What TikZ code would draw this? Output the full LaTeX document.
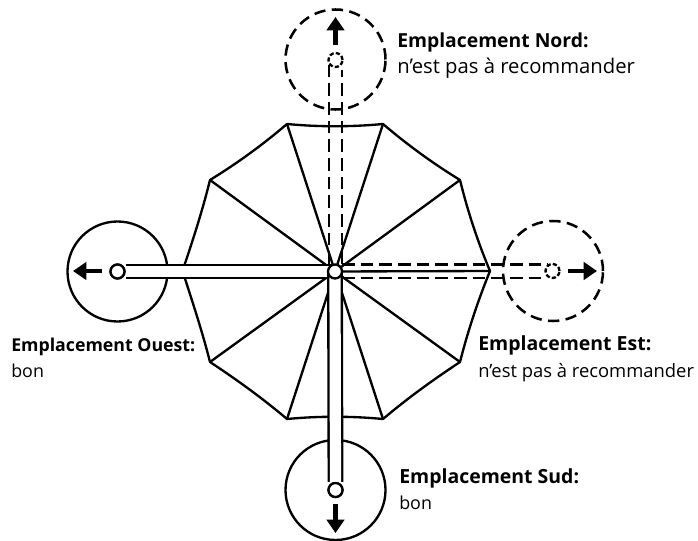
\documentclass[tikz,border=0pt]{standalone}
\usepackage{fontspec}
\setmainfont{Open Sans}
\usetikzlibrary{arrows.meta}
\tikzset{
  px/.style={x=0.75pt,y=-0.75pt},
  ln/.style={line width=1.75pt,black,line join=round},
  dsh/.style={ln,line width=1.9pt,dash pattern=on 8.5pt off 4.8pt},
  barsh/.style={ln,line width=1.9pt,dash pattern=on 9.5pt off 4.5pt},
  dshs/.style={ln,dash pattern=on 3.2pt off 1.6pt},
  basecirc/.style={circle,minimum size=75pt,inner sep=0pt,ln,draw},
  dbasecirc/.style={basecirc,dsh},
  polecap/.style={circle,minimum size=10.5pt,inner sep=0pt,ln,draw,fill=white},
  dpolecap/.style={circle,minimum size=10.5pt,inner sep=0pt,dshs,draw},
  movearrow/.style={line width=3.4pt,-{Triangle[length=10pt,width=13pt]}},
  headtxt/.style={anchor=base west,inner sep=0pt,font=\fontsize{#1}{14pt}\selectfont\bfseries},
  subtxt/.style={anchor=base west,inner sep=0pt,font=\fontsize{#1}{14pt}\selectfont},
  polebar/.style={ln,double=white,double distance=8.4pt},
  rib/.style={ln,line cap=round},
}
\begin{document}
\begin{tikzpicture}[px]
\useasboundingbox (0,0) rectangle (698,541);
% canopy
\coordinate (v1) at (287,124);
\coordinate (v2) at (383,124);
\coordinate (v3) at (460,180);
\coordinate (v4) at (490,271);
\coordinate (v5) at (460,362);
\coordinate (v6) at (383,419);
\coordinate (v7) at (287,419);
\coordinate (v8) at (210,362);
\coordinate (v9) at (182.5,271);
\coordinate (v10) at (210,180);
\draw[ln] (v1) .. controls (319,127) and (351,127) .. (v2)
  .. controls (407.2,144.7) and (432.8,163.3) .. (v3)
  .. controls (467.6,211) and (477.6,241.5) .. (v4)
  .. controls (477.6,301.5) and (467.6,332) .. (v5)
  .. controls (432.8,380) and (407.2,398.5) .. (v6)
  .. controls (351,416) and (319,416) .. (v7)
  .. controls (262.8,398.5) and (237.2,380) .. (v8)
  .. controls (202.4,332) and (192.4,301.5) .. (v9)
  .. controls (192.4,241.5) and (202.4,211) .. (v10)
  .. controls (237.2,163.3) and (262.8,144.7) .. (v1);
\coordinate (hubc) at (335,271.5);
\foreach \v in {1,...,10} \draw[rib] (hubc) -- (v\v);
% base circles
\node[basecirc,fill=white] (westb) at (117.5,271.5) {};
\node[basecirc,fill=white] (southb) at (335.5,490) {};
\node[dbasecirc] (northb) at (335.5,59.5) {};
\node[dbasecirc] (eastb) at (553,271) {};
% east and north dashed poles
\coordinate (en1) at (342,264.5);
\coordinate (en2) at (548,264.5);
\coordinate (es1) at (342,278);
\coordinate (es2) at (546,278);
\coordinate (nw1) at (329,264);
\coordinate (nw2) at (329,65);
\coordinate (ne1) at (342,264);
\coordinate (ne2) at (342,70);
\draw[barsh] (en1) -- (en2);
\draw[barsh] (es1) -- (es2);
\draw[barsh] (nw1) -- (nw2);
\draw[barsh] (ne1) -- (ne2);
% solid poles
\node[polecap] (westc) at (117.5,271.5) {};
\node[polecap] (southc) at (335.5,490) {};
\node[dpolecap] (northc) at (335.5,60) {};
\node[dpolecap] (eastc) at (552.5,271) {};
\draw[polebar] (hubc) -- (westc);
\draw[polebar] (hubc) -- (southc);
\node[polecap] (westc2) at (westc) {};
\node[polecap] (southc2) at (southc) {};
\node[polecap] (hub) at (hubc) {};
% arrows
\coordinate (na) at (335.5,17);
\coordinate (ea) at (597,271);
\coordinate (wa) at (73,271);
\coordinate (sa) at (335.5,533);
\coordinate (na0) at (335.5,45);
\coordinate (ea0) at (568,271);
\coordinate (wa0) at (102,271);
\coordinate (sa0) at (335.5,504);
\draw[movearrow] (na0) -- (na);
\draw[movearrow] (ea0) -- (ea);
\draw[movearrow] (wa0) -- (wa);
\draw[movearrow] (sa0) -- (sa);
% labels
\node[headtxt=14.5pt] (tn) at (397,48) {Emplacement Nord:};
\node[subtxt=15.2pt] (sn) at (397,74) {n’est pas à recommander};
\node[headtxt=13.3pt] (to) at (11,351) {Emplacement Ouest:};
\node[subtxt=13.4pt] (so) at (11,377) {bon};
\node[headtxt=14.6pt] (te) at (478,350) {Emplacement Est:};
\node[subtxt=13.8pt] (se) at (478,377) {n’est pas à recommander};
\node[headtxt=14.6pt] (ts) at (399,483) {Emplacement Sud:};
\node[subtxt=13.4pt] (ss) at (399,509) {bon};
\end{tikzpicture}
\end{document}
